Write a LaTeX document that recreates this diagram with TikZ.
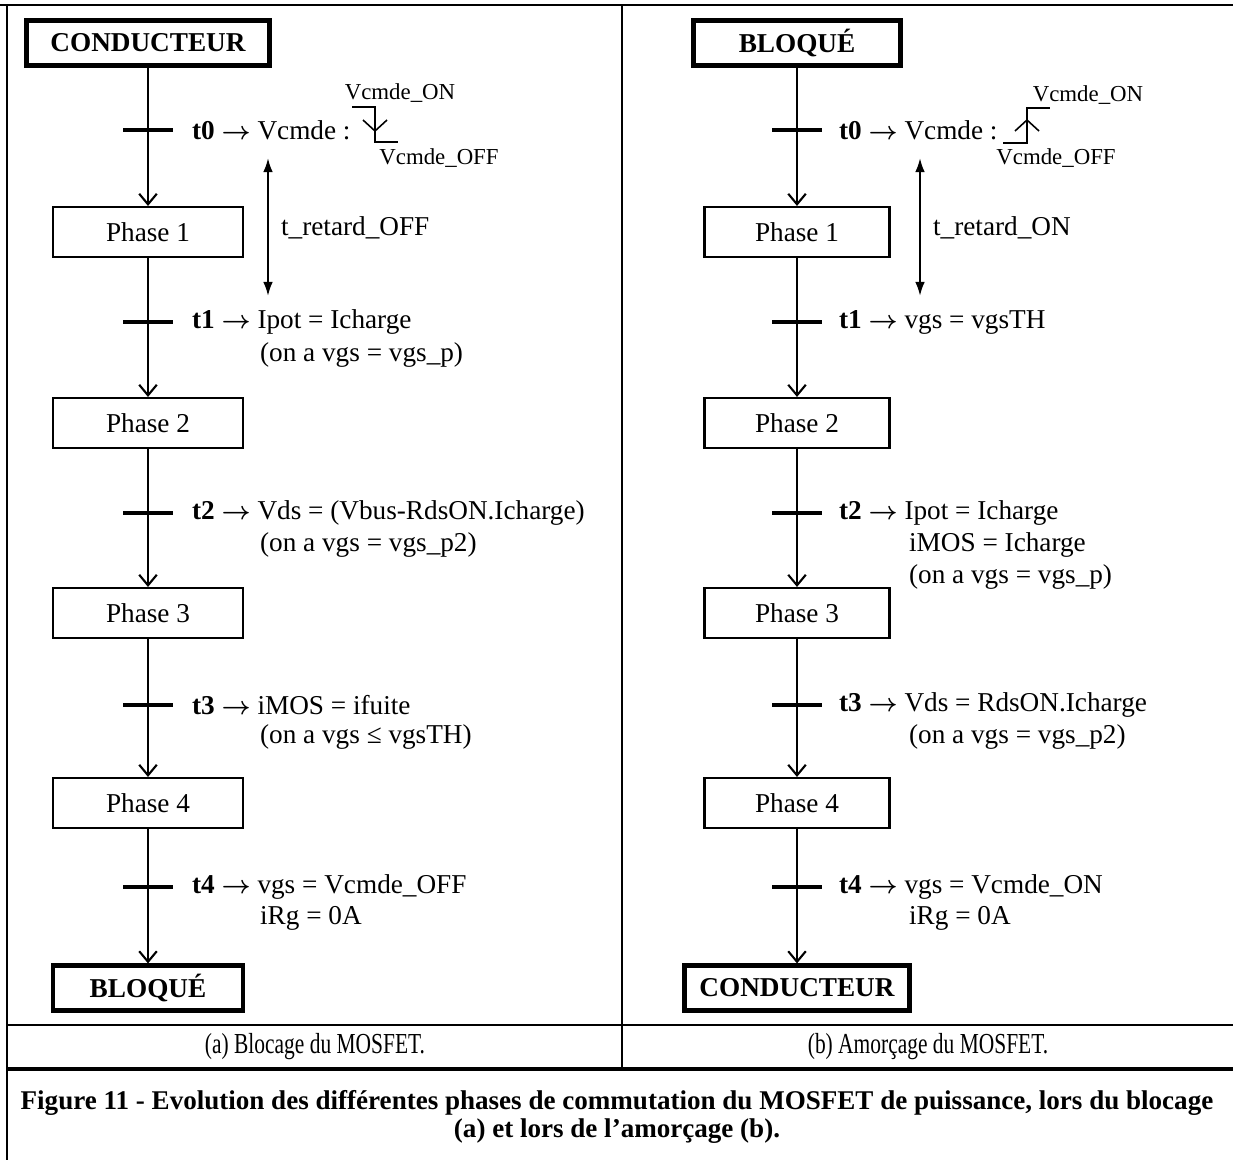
\documentclass[tikz,border=0pt]{standalone}
\usepackage{fontspec}
\setmainfont{Liberation Serif}
\usepackage{graphicx}
\usetikzlibrary{arrows.meta,positioning,calc}

\newcommand{\flecheT}{{\fontsize{14}{16}\selectfont\boldmath$\rightarrow$}}

\begin{document}
\begin{tikzpicture}[x=0.02cm,y=-0.02cm,
    etat/.style={draw,line width=2.4pt,minimum height=0.9cm,inner sep=0pt,font=\fontsize{15.5}{18}\selectfont\bfseries},
    phase/.style={draw,line width=1.2pt,minimum width=3.8cm,minimum height=1cm,inner sep=0pt,font=\fontsize{15.5}{18}\selectfont},
    lien/.style={line width=1.4pt,-{Straight Barb[length=6pt,width=10pt,line width=1.2pt]}},
    barre/.style={line width=2.2pt},
    retard/.style={line width=1.2pt,{Latex[length=8pt,width=5.5pt]}-{Latex[length=8pt,width=5.5pt]}},
    onde/.style={line width=0.9pt},
    lbl/.style={right,inner sep=1pt,font=\fontsize{15.5}{18}\selectfont},
    petit/.style={inner sep=0pt,font=\fontsize{13}{15}\selectfont},
    cadre/.style={line width=1.3pt},
    legende/.style={inner sep=0pt,font=\fontsize{16.5}{19}\selectfont}]
  \useasboundingbox (0,0) rectangle (1233,1160);

  \draw [cadre] (0,5) -- (1233,5);
  \draw [cadre] (7,5) -- (7,1160);
  \draw [cadre] (622,5) -- (622,1069);
  \draw [cadre] (7,1025) -- (1233,1025);
  \draw [line width=1.8pt] (7,1069) -- (1233,1069);

  \node [etat,minimum width=4.86cm] (ca0) at (148,43) {CONDUCTEUR};
  \node [phase] (pa1) at (148,232) {Phase 1};
  \node [phase] (pa2) at (148,423) {Phase 2};
  \node [phase] (pa3) at (148,613) {Phase 3};
  \node [phase] (pa4) at (148,803) {Phase 4};
  \node [etat,minimum width=3.8cm] (ca5) at (148,988) {BLOQUÉ};

  \draw [lien] (ca0) -- (pa1);
  \draw [lien] (pa1) -- (pa2);
  \draw [lien] (pa2) -- (pa3);
  \draw [lien] (pa3) -- (pa4);
  \draw [lien] (pa4) -- (ca5);

  \draw [barre] (123,130) -- (173,130);
  \draw [barre] (123,322) -- (173,322);
  \draw [barre] (123,513) -- (173,513);
  \draw [barre] (123,705) -- (173,705);
  \draw [barre] (123,887) -- (173,887);

  \node (la0) at (190,130) [lbl] {\textbf{t0} \flecheT{} Vcmde :};
  \node (la1) at (190,322) [lbl] {\textbf{t1} \flecheT{} Ipot = Icharge};
  \node (la1b) at (258,355) [lbl] {(on a vgs = vgs\_p)};
  \node (la2) at (190,513) [lbl] {\textbf{t2} \flecheT{} Vds = (Vbus-RdsON.Icharge)};
  \node (la2b) at (258,545) [lbl] {(on a vgs = vgs\_p2)};
  \node (la3) at (190,705) [lbl] {\textbf{t3} \flecheT{} iMOS = ifuite};
  \node (la3b) at (258,737) [lbl] {(on a vgs ≤ vgsTH)};
  \node (la4) at (190,887) [lbl] {\textbf{t4} \flecheT{} vgs = Vcmde\_OFF};
  \node (la4b) at (258,918) [lbl] {iRg = 0A};

  \draw [onde] (352,107) -- (375,107) -- (375,142) -- (398,142);
  \draw [onde] (363,120) -- (375,131) -- (387,120);
  \node (vona) at (400,93) [petit] {Vcmde\_ON};
  \node (voffa) at (439,158) [petit] {Vcmde\_OFF};

  \coordinate (ra0) at (268,158);
  \coordinate (ra1) at (268,296);
  \draw [retard] (ra0) -- (ra1);
  \node (lra) at (279,228) [lbl] {t\_retard\_OFF};

  \node [etat,minimum width=4.14cm] (cb0) at (797,43) {BLOQUÉ};
  \node [phase,minimum width=3.7cm] (pb1) at (797,232) {Phase 1};
  \node [phase,minimum width=3.7cm] (pb2) at (797,423) {Phase 2};
  \node [phase,minimum width=3.7cm] (pb3) at (797,613) {Phase 3};
  \node [phase,minimum width=3.7cm] (pb4) at (797,803) {Phase 4};
  \node [etat,minimum width=4.5cm] (cb5) at (797,988) {CONDUCTEUR};

  \draw [lien] (cb0) -- (pb1);
  \draw [lien] (pb1) -- (pb2);
  \draw [lien] (pb2) -- (pb3);
  \draw [lien] (pb3) -- (pb4);
  \draw [lien] (pb4) -- (cb5);

  \draw [barre] (772,130) -- (822,130);
  \draw [barre] (772,322) -- (822,322);
  \draw [barre] (772,513) -- (822,513);
  \draw [barre] (772,705) -- (822,705);
  \draw [barre] (772,887) -- (822,887);

  \node (lb0) at (837,130) [lbl] {\textbf{t0} \flecheT{} Vcmde :};
  \node (lb1) at (837,322) [lbl] {\textbf{t1} \flecheT{} vgs = vgsTH};
  \node (lb2) at (837,513) [lbl] {\textbf{t2} \flecheT{} Ipot = Icharge};
  \node (lb2b) at (907,545) [lbl] {iMOS = Icharge};
  \node (lb2c) at (907,577) [lbl] {(on a vgs = vgs\_p)};
  \node (lb3) at (837,705) [lbl] {\textbf{t3} \flecheT{} Vds = RdsON.Icharge};
  \node (lb3b) at (907,737) [lbl] {(on a vgs = vgs\_p2)};
  \node (lb4) at (837,887) [lbl] {\textbf{t4} \flecheT{} vgs = Vcmde\_ON};
  \node (lb4b) at (907,918) [lbl] {iRg = 0A};

  \draw [onde] (1003,143) -- (1027,143) -- (1027,108) -- (1050,108);
  \draw [onde] (1015,131) -- (1027,120) -- (1039,131);
  \node (vonb) at (1088,95) [petit] {Vcmde\_ON};
  \node (voffb) at (1056,158) [petit] {Vcmde\_OFF};

  \coordinate (rb0) at (920,158);
  \coordinate (rb1) at (920,296);
  \draw [retard] (rb0) -- (rb1);
  \node (lrb) at (931,228) [lbl] {t\_retard\_ON};

  \node (sa) at (315,1047) [legende] {\scalebox{0.74}[1]{(a) Blocage du MOSFET.}};
  \node (sb) at (928,1047) [legende] {\scalebox{0.74}[1]{(b) Amorçage du MOSFET.}};
  \node (fig1) at (617,1103) [legende,font=\fontsize{15.4}{18}\selectfont\bfseries] {Figure 11 - Evolution des différentes phases de commutation du MOSFET de puissance, lors du blocage};
  \node (fig2) at (617,1131) [legende,font=\fontsize{15.4}{18}\selectfont\bfseries] {(a) et lors de l’amorçage (b).};
\end{tikzpicture}
\end{document}
